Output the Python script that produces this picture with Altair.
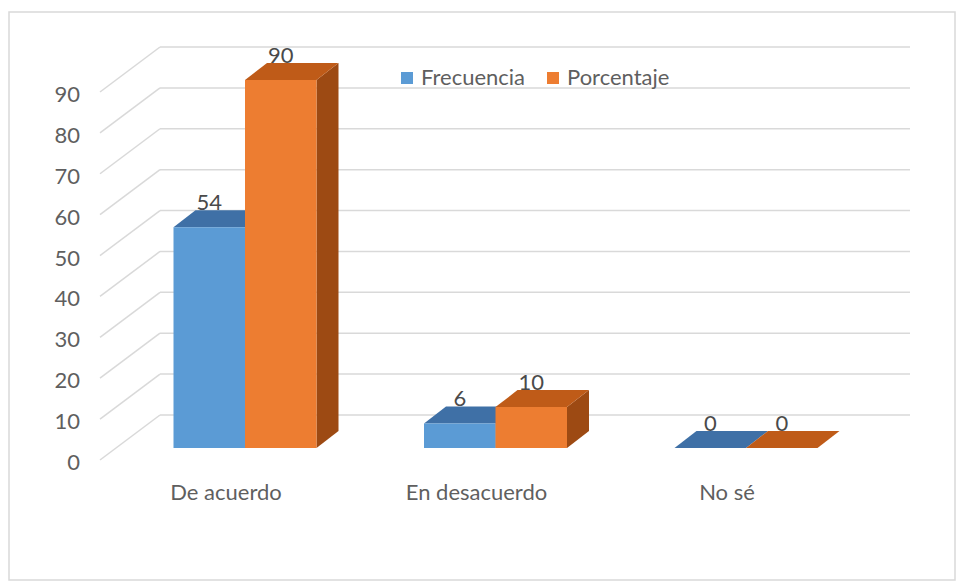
import altair as alt
import pandas as pd

# ---------------- data ----------------
categories = ["De acuerdo", "En desacuerdo", "No sé"]
series = ["Frecuencia", "Porcentaje"]
frecuencia = [54, 6, 0]
porcentaje = [90, 10, 0]
y_ticks = [0, 10, 20, 30, 40, 50, 60, 70, 80, 90]

# ---------------- style / layout ----------------
W, H = 958, 583
PAD_L, PAD_T, PAD_R, PAD_B = 9, 12, 3, 3
VW, VH = W - PAD_L - PAD_R, H - PAD_T - PAD_B
GROUP_X0 = 245.0      # page x of the first group centre
GROUP_STEP = 250.5    # pixels between groups
BAR_PX = 71.5         # bar width, pixels
BASE_Y = 448.0        # page y of value 0 on the bar plane
PX_PER_UNIT = 4.089   # pixels per value unit
DEPTH_DX, DEPTH_DY = 22.0, 17.0   # bar depth (pixels)

FONT = "Lato"
FS = 22
TXT = "#5F5F5F"
FRONT = {"Frecuencia": "#5B9BD5", "Porcentaje": "#ED7D31"}
TOP = {"Frecuencia": "#3F70A6", "Porcentaje": "#BF5B18"}
SIDE = {"Frecuencia": "#2F5A88", "Porcentaje": "#9D4A13"}
GRID = "#D9D9D9"

xmin = -(GROUP_X0 - PAD_L) / GROUP_STEP
xmax = xmin + VW / GROUP_STEP
ymax = (BASE_Y - PAD_T) / PX_PER_UNIT
ymin = ymax - VH / PX_PER_UNIT
BW = BAR_PX / GROUP_STEP
DXU = DEPTH_DX / GROUP_STEP
DYU = DEPTH_DY / PX_PER_UNIT

XS = alt.Scale(domain=[xmin, xmax], nice=False, zero=False)
YS = alt.Scale(domain=[ymin, ymax], nice=False, zero=False)

values = {"Frecuencia": frecuencia, "Porcentaje": porcentaje}

bars, tops, sides = [], [], []
for si, s in enumerate(series):
    for i, c in enumerate(categories):
        v = values[s][i]
        x0 = i + (si - 1) * BW
        x1 = x0 + BW
        bid = f"{s}-{i}"
        bars.append({"series": s, "cat": c, "i": i, "v": v, "zero": 0,
                     "x0": x0, "x1": x1, "xc": (x0 + x1) / 2, "bid": bid})
        tops.append({"series": s, "bid": bid, "y": v, "xa": x0, "xb": x1})
        tops.append({"series": s, "bid": bid, "y": v + DYU, "xa": x0 + DXU, "xb": x1 + DXU})
        sides.append({"series": s, "bid": bid, "x": x1, "ya": 0, "yb": v})
        sides.append({"series": s, "bid": bid, "x": x1 + DXU, "ya": DYU, "yb": v + DYU})

bars_df = pd.DataFrame(bars)
tops_df = pd.DataFrame(tops)
sides_df = pd.DataFrame(sides)
ticks_df = pd.DataFrame({"v": y_ticks})
cats_df = pd.DataFrame({"i": list(range(len(categories))), "cat": categories, "zero": 0})

# ---------------- gridlines ----------------
diag = alt.Chart(ticks_df).mark_rule(color=GRID, strokeWidth=1.5, yOffset=12, y2Offset=-33).encode(
    x=alt.value(100 - PAD_L), x2=alt.value(160 - PAD_L),
    y=alt.Y("v:Q", scale=YS, axis=None), y2="v:Q")
horiz = alt.Chart(ticks_df).mark_rule(color=GRID, strokeWidth=1.5, yOffset=-33).encode(
    x=alt.value(160 - PAD_L), x2=alt.value(910 - PAD_L),
    y=alt.Y("v:Q", scale=YS, axis=None))

ytext = alt.Chart(ticks_df).mark_text(align="right", baseline="middle", dy=15,
                                      font=FONT, fontSize=FS, color=TXT).encode(
    x=alt.value(80 - PAD_L), y=alt.Y("v:Q", scale=YS, axis=None), text="v:Q")

layers = [diag, horiz, ytext]

# ---------------- 3D bars ----------------
for s in series:
    side = alt.Chart(sides_df).transform_filter(alt.datum.series == s).mark_area(
        orient="vertical", color=SIDE[s]).encode(
        x=alt.X("x:Q", scale=XS, axis=None),
        y=alt.Y("ya:Q", scale=YS, axis=None), y2="yb:Q", detail="bid:N")
    top = alt.Chart(tops_df).transform_filter(alt.datum.series == s).mark_area(
        orient="horizontal", color=TOP[s]).encode(
        y=alt.Y("y:Q", scale=YS, axis=None),
        x=alt.X("xa:Q", scale=XS, axis=None), x2="xb:Q", detail="bid:N")
    front = alt.Chart(bars_df).transform_filter(alt.datum.series == s).mark_rect().encode(
        x=alt.X("x0:Q", scale=XS, axis=None), x2="x1:Q",
        y=alt.Y("zero:Q", scale=YS, axis=None), y2="v:Q",
        color=alt.Color("series:N",
                        scale=alt.Scale(domain=series, range=[FRONT[k] for k in series]),
                        legend=alt.Legend(title=None, orient="none", direction="horizontal",
                                          legendX=387, legendY=55, symbolType="square",
                                          symbolSize=144, symbolStrokeWidth=0,
                                          labelFont=FONT, labelFontSize=FS, labelColor=TXT,
                                          labelOffset=3, columnPadding=16, padding=0)))
    layers += [side, top, front]

vlabels = alt.Chart(bars_df).mark_text(baseline="middle", dy=-24, font=FONT, fontSize=FS,
                                       color="#4A4A4A").encode(
    x=alt.X("xc:Q", scale=XS, axis=None), y=alt.Y("v:Q", scale=YS, axis=None), text="v:Q")

clabels = alt.Chart(cats_df).mark_text(baseline="middle", dx=-19, dy=45, font=FONT,
                                       fontSize=FS, color=TXT).encode(
    x=alt.X("i:Q", scale=XS, axis=None), y=alt.Y("zero:Q", scale=YS, axis=None), text="cat:N")

layers += [vlabels, clabels]

chart = alt.layer(*layers).properties(
    width=VW, height=VH,
    padding={"left": PAD_L, "top": PAD_T, "right": PAD_R, "bottom": PAD_B},
    autosize=alt.AutoSizeParams(type="none"),
    background="white",
).configure_view(stroke="#D9D9D9", strokeWidth=1.5)

chart.save("out.html", embed_options={"renderer": "svg", "actions": False})
